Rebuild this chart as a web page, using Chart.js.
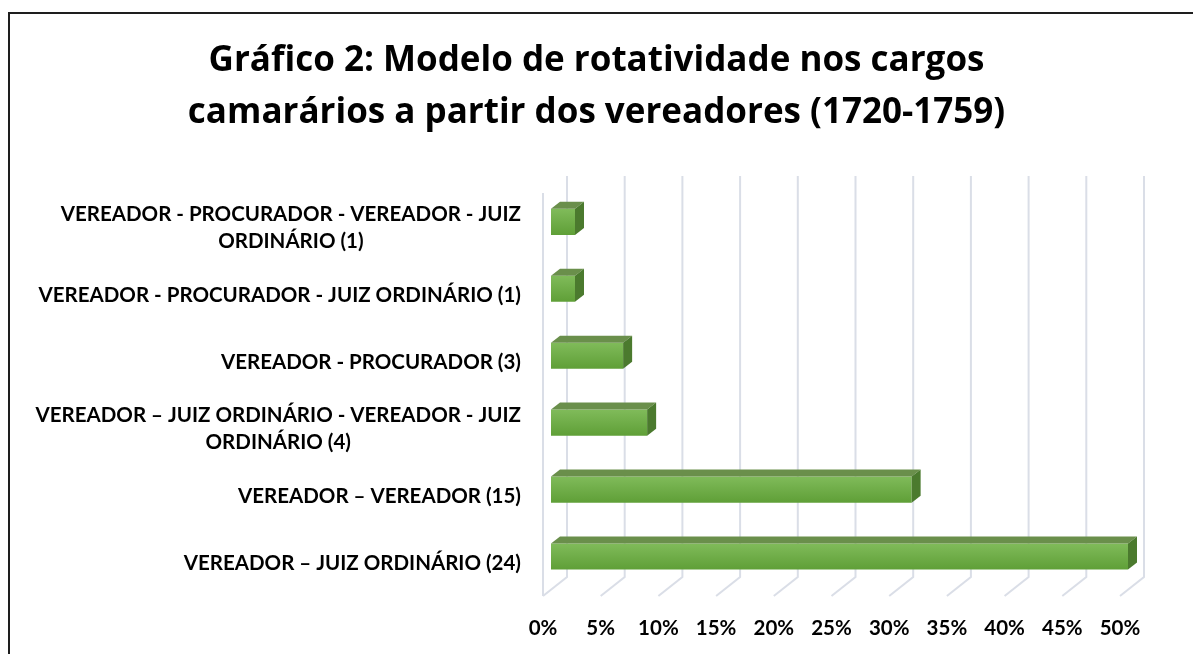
<!DOCTYPE html>
<html>
<head>
<meta charset="utf-8">
<script src="https://cdn.jsdelivr.net/npm/chart.js@4"></script>
<style>
  html, body { margin: 0; padding: 0; background: #fff; overflow: hidden; }
  canvas { display: block; }
</style>
</head>
<body>
<canvas id="myChart" width="1193" height="654"></canvas>
<script>
const ctx = document.getElementById("myChart");

const titleLines = [
  "Gráfico 2: Modelo de rotatividade nos cargos",
  "camarários a partir dos vereadores (1720-1759)",
];

// categories, top to bottom
const categories = [
  ["VEREADOR - PROCURADOR - VEREADOR - JUIZ", "ORDINÁRIO (1)"],
  ["VEREADOR - PROCURADOR - JUIZ ORDINÁRIO (1)"],
  ["VEREADOR - PROCURADOR (3)"],
  ["VEREADOR – JUIZ ORDINÁRIO - VEREADOR - JUIZ", "ORDINÁRIO (4)"],
  ["VEREADOR – VEREADOR (15)"],
  ["VEREADOR – JUIZ ORDINÁRIO (24)"],
];

// share of vereadores, in percent
const shares = [2.08, 2.08, 6.25, 8.33, 31.25, 50];

const axisMin = 0;
const axisMax = 50;
const axisStep = 5;

const labelFont = "bold 20.5px Lato";
const depth = { dx: 9, dy: -7 };      // bar depth
const front = { dx: -8, dy: 6 };      // floor front edge, from bar face
const back = { dx: 16, dy: -13 };     // back wall, from bar face

function frontGradient(c) {
  const chart = c.chart;
  const y = chart.scales.y;
  if (!chart.chartArea || !y) return "#6cae45";
  const yc = y.getPixelForValue(c.dataIndex);
  const h = y.getPixelForValue(1) - y.getPixelForValue(0);
  const half = (h * 0.39) / 2;
  const g = chart.ctx.createLinearGradient(0, yc - half, 0, yc + half);
  g.addColorStop(0, "#80bb5a");
  g.addColorStop(1, "#5f9f37");
  return g;
}

const pseudo3d = {
  id: "pseudo3d",
  beforeDraw(chart) {
    const c = chart.ctx;
    c.save();
    c.fillStyle = "#fff";
    c.fillRect(0, 0, chart.width, chart.height);
    c.strokeStyle = "#1e1e1e";
    c.lineWidth = 2;
    c.strokeRect(9, 13, chart.width + 20, chart.height + 20);
    c.restore();
  },
  beforeDatasetsDraw(chart) {
    const c = chart.ctx;
    const x = chart.scales.x;
    const area = chart.chartArea;
    const wallTop = 176;
    const floorBack = area.bottom + back.dy;
    const floorFront = area.bottom + front.dy;
    c.save();
    c.strokeStyle = "#dadee7";
    c.lineWidth = 2;
    // side wall front edge
    const x0 = x.getPixelForValue(axisMin);
    c.beginPath();
    c.moveTo(x0 + front.dx, 193);
    c.lineTo(x0 + front.dx, floorFront);
    c.stroke();
    x.ticks.forEach(function (t) {
      const px = x.getPixelForValue(t.value);
      c.beginPath();
      c.moveTo(px + back.dx, wallTop);
      c.lineTo(px + back.dx, floorBack);
      c.lineTo(px + front.dx, floorFront);
      c.stroke();
    });
    c.restore();
  },
  afterDatasetsDraw(chart) {
    const c = chart.ctx;
    const meta = chart.getDatasetMeta(0);
    c.save();
    meta.data.forEach(function (bar) {
      const p = bar.getProps(["x", "y", "base", "height"], true);
      const top = p.y - p.height / 2;
      const bottom = p.y + p.height / 2;
      // top face
      c.fillStyle = "#6a8f4b";
      c.beginPath();
      c.moveTo(p.base, top);
      c.lineTo(p.x, top);
      c.lineTo(p.x + depth.dx, top + depth.dy);
      c.lineTo(p.base + depth.dx, top + depth.dy);
      c.closePath();
      c.fill();
      // side face
      c.fillStyle = "#4b7a2e";
      c.beginPath();
      c.moveTo(p.x, top);
      c.lineTo(p.x + depth.dx, top + depth.dy);
      c.lineTo(p.x + depth.dx, bottom + depth.dy);
      c.lineTo(p.x, bottom);
      c.closePath();
      c.fill();
    });
    c.restore();
  },
  afterDraw(chart) {
    // category labels: right aligned block, wrapped lines centred in it
    const c = chart.ctx;
    const y = chart.scales.y;
    const right = 521;
    const lineGap = 27;
    c.save();
    c.font = labelFont;
    c.fillStyle = "#000";
    c.textBaseline = "middle";
    c.textAlign = "center";
    categories.forEach(function (lines, i) {
      const yc = y.getPixelForValue(i) + 6.5;
      const w = Math.max.apply(null, lines.map((s) => c.measureText(s).width));
      const cx = right - w / 2;
      const y0 = yc - ((lines.length - 1) * lineGap) / 2;
      lines.forEach(function (s, k) {
        c.fillText(s, cx, y0 + k * lineGap);
      });
    });
    c.restore();
  },
};

new Chart(ctx, {
  type: "bar",
  data: {
    labels: categories,
    datasets: [
      {
        label: "Vereadores",
        data: shares,
        backgroundColor: frontGradient,
        borderWidth: 0,
        categoryPercentage: 1,
        barPercentage: 0.39,
      },
    ],
  },
  plugins: [pseudo3d],
  options: {
    indexAxis: "y",
    responsive: false,
    animation: false,
    devicePixelRatio: 1,
    layout: { padding: 0 },
    plugins: {
      legend: { display: false },
      tooltip: { enabled: false },
      title: {
        display: true,
        text: titleLines,
        color: "#000",
        font: { family: "Open Sans", size: 35, weight: "bold", lineHeight: 1.47 },
        padding: { top: 35.5, bottom: 50 },
      },
    },
    scales: {
      x: {
        min: axisMin,
        max: axisMax,
        grid: { display: false, drawTicks: false },
        border: { display: false },
        afterFit: function (s) {
          s.height = 64;
        },
        ticks: {
          stepSize: axisStep,
          color: "#000",
          padding: 26,
          labelOffset: -8,
          maxRotation: 0,
          font: { family: "Lato", size: 20.5, weight: "bold" },
          callback: function (v) {
            return v + "%";
          },
        },
      },
      y: {
        grid: { display: false, drawTicks: false },
        border: { display: false },
        ticks: { display: false },
        afterFit: function (s) {
          s.width = 551;
        },
      },
      y2: {
        type: "category",
        position: "right",
        grid: { display: false, drawTicks: false },
        border: { display: false },
        ticks: { display: false },
        afterFit: function (s) {
          s.width = 65;
        },
      },
    },
  },
});
</script>
</body>
</html>
